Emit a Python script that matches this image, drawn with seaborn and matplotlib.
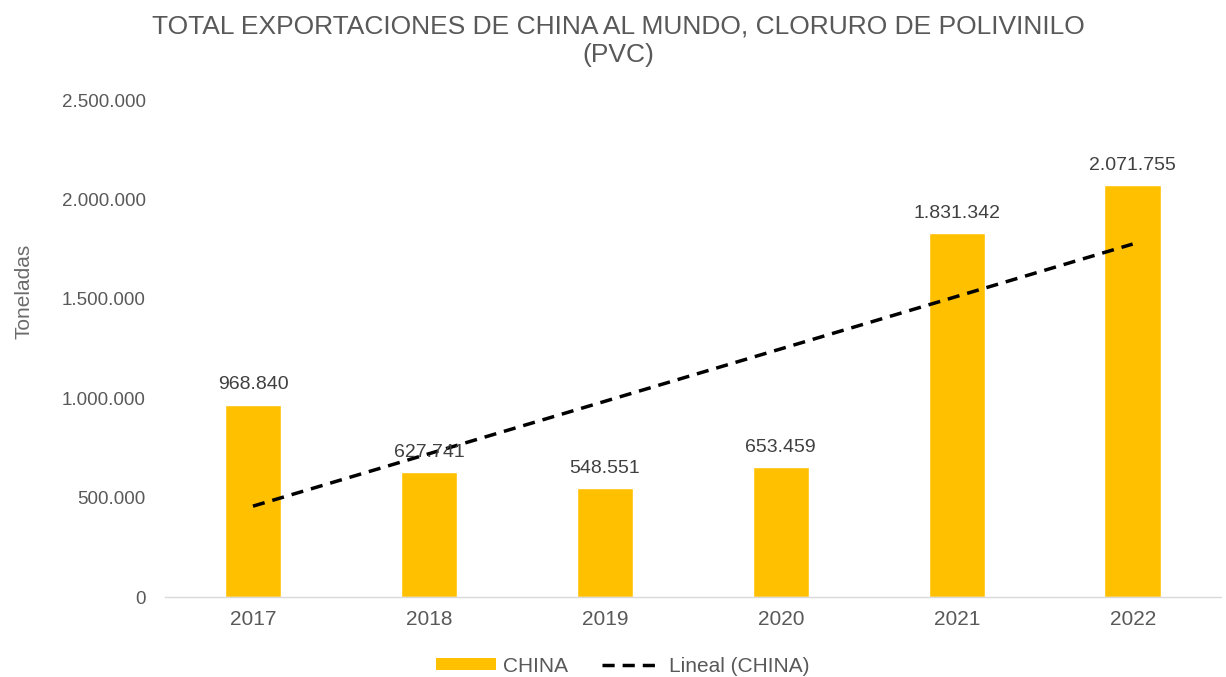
import matplotlib
matplotlib.use("Agg")
import matplotlib.pyplot as plt
import matplotlib.ticker as mticker
from matplotlib.lines import Line2D
from matplotlib.patches import Patch
import numpy as np
import pandas as pd
import seaborn as sns

years = ["2017", "2018", "2019", "2020", "2021", "2022"]
values = [968840, 627741, 548551, 653459, 1831342, 2071755]
title = "TOTAL EXPORTACIONES DE CHINA AL MUNDO, CLORURO DE POLIVINILO\n(PVC)"
ylabel = "Toneladas"
series_name = "CHINA"
trend_name = "Lineal (CHINA)"

sns.set_theme(style="white")
plt.rcParams['font.family'] = ['Liberation Sans', 'DejaVu Sans']

def fmt(v):
    return f"{int(round(v)):,}".replace(",", ".")

df = pd.DataFrame({"year": years, "value": values})

fig = plt.figure(figsize=(12.26, 6.77), dpi=100)
ax = fig.add_axes([0.1346, 0.118, 0.861, 0.734])
sns.barplot(data=df, x="year", y="value", color="#FFC000", saturation=1, width=0.32, ax=ax)

# linear trend
xs = np.arange(len(values))
coef = np.polyfit(xs, values, 1)
dash = (0, (3.5, 2.3))
ax.plot(xs, np.polyval(coef, xs), color="black", lw=2.5, ls=dash, zorder=3)

for i, v in enumerate(values):
    ax.annotate(fmt(v), (i, v), xytext=(0, 8), textcoords="offset points",
                ha="center", va="bottom", fontsize=14, color="#404040", zorder=4)

ax.set_ylim(0, 2500000)
ax.set_xlim(-0.5, 5.5)
ax.yaxis.set_major_locator(mticker.MultipleLocator(500000))
ax.yaxis.set_major_formatter(mticker.FuncFormatter(lambda v, p: fmt(v)))
ax.tick_params(axis="y", labelsize=13.5, labelcolor="#595959", length=0, pad=14)
ax.tick_params(axis="x", labelsize=15, labelcolor="#595959", length=0, pad=9)
ax.set_xlabel("")
ax.set_ylabel(ylabel, fontsize=15, color="#6B6B6B")
ax.yaxis.set_label_coords(-0.125, 0.615)
for s in ["top", "right", "left"]:
    ax.spines[s].set_visible(False)
ax.spines["bottom"].set_color("#D9D9D9")
ax.spines["bottom"].set_linewidth(1)
ax.grid(False)

fig.text(0.504, 0.978, title, ha="center", va="top", fontsize=19, color="#595959",
         linespacing=1.22)

handles = [Patch(facecolor="#FFC000", edgecolor="none"),
           Line2D([0], [0], color="black", lw=2.5, ls=dash)]
fig.legend(handles, [series_name, trend_name], loc="center", bbox_to_anchor=(0.508, 0.016),
           ncol=2, frameon=False, fontsize=15, labelcolor="#595959",
           handlelength=2.9, handleheight=0.5, handletextpad=0.35, columnspacing=1.6)

fig.savefig("out.png", dpi=100, facecolor="white")
